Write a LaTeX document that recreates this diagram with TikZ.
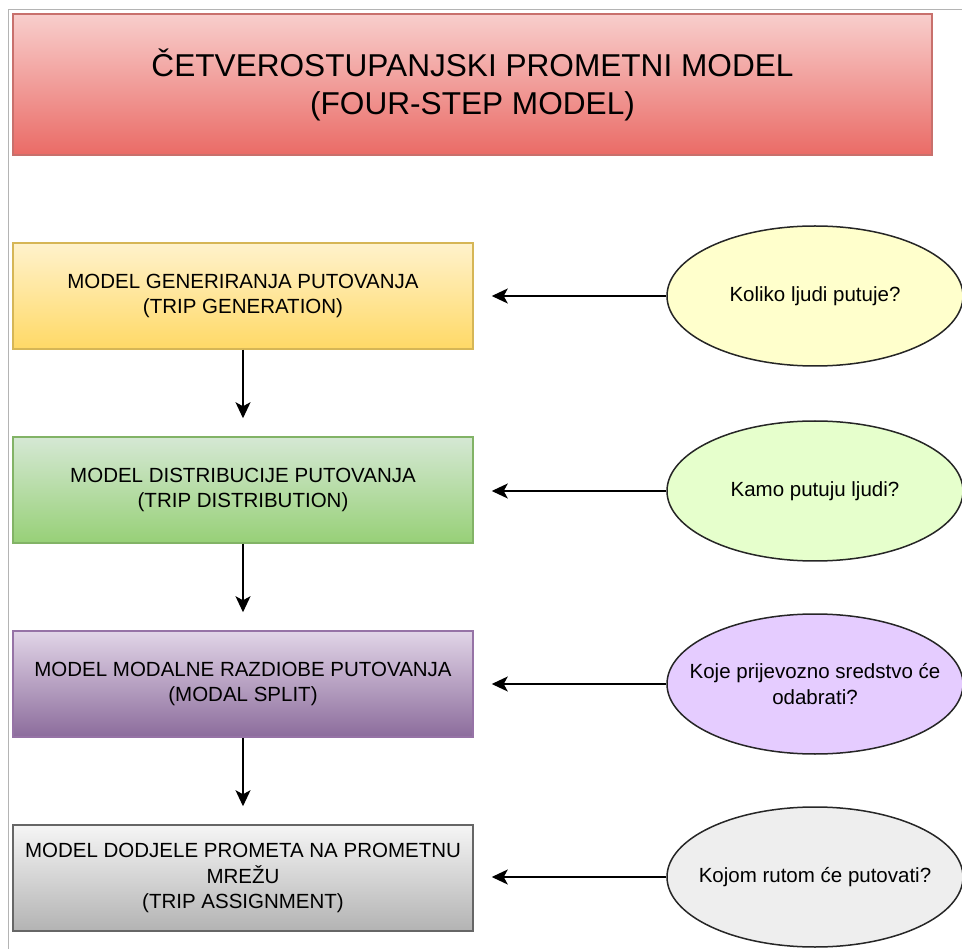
\documentclass[tikz,border=0pt]{standalone}
\usepackage{fontspec}
\setmainfont{Liberation Sans}
\usepackage{tikz}
\usetikzlibrary{arrows.meta,shapes.geometric}

\definecolor{framegray}{HTML}{B4B4B4}
\definecolor{redtop}{HTML}{F8CECC}
\definecolor{redbot}{HTML}{EA6B66}
\definecolor{redline}{HTML}{C8706C}
\definecolor{yeltop}{HTML}{FFF2CC}
\definecolor{yelbot}{HTML}{FFD966}
\definecolor{yelline}{HTML}{D6B656}
\definecolor{grntop}{HTML}{D5E8D4}
\definecolor{grnbot}{HTML}{97D077}
\definecolor{grnline}{HTML}{82B366}
\definecolor{purtop}{HTML}{E1D5E7}
\definecolor{purbot}{HTML}{8C6C9C}
\definecolor{purline}{HTML}{9673A6}
\definecolor{grytop}{HTML}{F5F5F5}
\definecolor{grybot}{HTML}{B3B3B3}
\definecolor{gryline}{HTML}{666666}

\newcommand{\smalltext}{\fontsize{20.5}{25.5}\selectfont}

\tikzset{
	titlebox/.style={rectangle, draw=redline, line width=1.5pt, top color=redtop, bottom color=redbot,
		minimum width=919pt, minimum height=141pt, align=center, font=\fontsize{31.6}{38}\selectfont},
	stepbox/.style={rectangle, line width=1.5pt, minimum width=460pt, minimum height=106pt,
		align=center, font=\smalltext, inner sep=2pt},
	question/.style={ellipse, draw=black!85, line width=1.5pt, minimum width=296pt, minimum height=140pt,
		align=center, font=\smalltext, inner xsep=-60pt, inner ysep=0pt},
	arr/.style={line width=1.5pt, -{Stealth[length=16pt,width=15pt,inset=4pt]}, shorten >=18pt}
}

\begin{document}
\begin{tikzpicture}[x=1pt,y=-1pt]
		
		\useasboundingbox (0,0) rectangle (962,949);
		\draw [framegray, line width=1.5pt] (8.5,949) -- (8.5,9.5) -- (962,9.5);
		
		\node [titlebox] (title) at (472.5,84.5) {ČETVEROSTUPANJSKI PROMETNI MODEL\\(FOUR-STEP MODEL)};
		
		% koraci modela
		\node [stepbox, draw=yelline, top color=yeltop, bottom color=yelbot] (gen) at (243,296)
			{MODEL GENERIRANJA PUTOVANJA\\(TRIP GENERATION)};
		\node [stepbox, draw=grnline, top color=grntop, bottom color=grnbot] (dist) at (243,490)
			{MODEL DISTRIBUCIJE PUTOVANJA\\(TRIP DISTRIBUTION)};
		\node [stepbox, draw=purline, top color=purtop, bottom color=purbot] (modal) at (243,684)
			{MODEL MODALNE RAZDIOBE PUTOVANJA\\(MODAL SPLIT)};
		\node [stepbox, draw=gryline, top color=grytop, bottom color=grybot] (assign) at (243,878)
			{MODEL DODJELE PROMETA NA PROMETNU\\MREŽU\\(TRIP ASSIGNMENT)};
		
		% pitanja
		\node [question, fill={rgb,255:red,255;green,255;blue,204}] (qgen) at (815,296) {Koliko ljudi putuje?};
		\node [question, fill={rgb,255:red,230;green,255;blue,204}] (qdist) at (815,491) {Kamo putuju ljudi?};
		\node [question, fill={rgb,255:red,229;green,204;blue,255}] (qmodal) at (815,684) {Koje prijevozno sredstvo će\\odabrati?};
		\node [question, fill={rgb,255:red,238;green,238;blue,238}] (qassign) at (815,877) {Kojom rutom će putovati?};
		
		\draw [arr] (gen) -- (dist);
		\draw [arr] (dist) -- (modal);
		\draw [arr] (modal) -- (assign);
		
		\draw [arr] (qgen.west) -- (qgen.west -| gen.east);
		\draw [arr] (qdist.west) -- (qdist.west -| dist.east);
		\draw [arr] (qmodal.west) -- (qmodal.west -| modal.east);
		\draw [arr] (qassign.west) -- (qassign.west -| assign.east);
		
\end{tikzpicture}
\end{document}
